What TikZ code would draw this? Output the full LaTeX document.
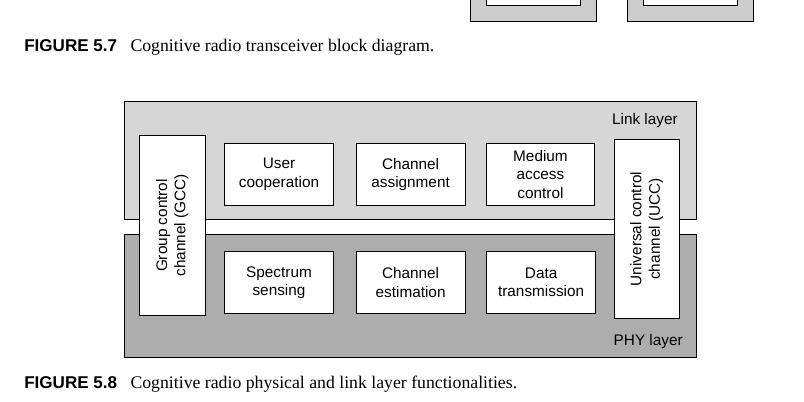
\documentclass[tikz,border=0pt]{standalone}
\usepackage{fontspec}
\setmainfont{Liberation Serif}
\newfontfamily\boxfont{Liberation Sans}
\usetikzlibrary{positioning}
\definecolor{linkgray}{gray}{0.84}
\definecolor{phygray}{gray}{0.68}
\definecolor{oldgray}{gray}{0.80}
\begin{document}
\begin{tikzpicture}[x=0.75pt, y=-0.75pt, node distance=15pt]
% Styles
\tikzstyle{layer} = [rectangle, draw=black, line width=0.7pt, inner sep=0pt, minimum width=428.8pt]
\tikzstyle{func} = [rectangle, draw=black, fill=white, line width=0.7pt, inner sep=0pt, minimum width=81.7pt, minimum height=46.7pt, align=center, font=\boxfont\fontsize{11.5}{13.8}\selectfont]
\tikzstyle{channel} = [func, rotate=90, minimum width=134.8pt, minimum height=49pt]
\tikzstyle{tag} = [inner sep=0pt, font=\boxfont\fontsize{11.5}{13.8}\selectfont]
\tikzstyle{caption} = [inner sep=0pt, anchor=west, font=\fontsize{13.3}{15}\selectfont]
\newcommand{\fignum}[1]{{\boxfont\bfseries\fontsize{12.8}{15}\selectfont #1}\hspace{10pt}}

\clip (0,0) rectangle (804,402);

% Figure 5.7 (bottom edge only)
\node (rxa) [rectangle, draw=black, fill=oldgray, line width=0.7pt, inner sep=0pt, minimum width=94.2pt, minimum height=45pt] at (533.5,-8.3) {};
\node (rxain) [rectangle, draw=black, fill=white, line width=0.7pt, inner sep=0pt, minimum width=70.5pt, minimum height=30pt] at (533.3,-14.3) {};
\node (rxb) [rectangle, draw=black, fill=oldgray, line width=0.7pt, inner sep=0pt, minimum width=94.2pt, minimum height=45pt] at (690.2,-8.3) {};
\node (rxbin) [rectangle, draw=black, fill=white, line width=0.7pt, inner sep=0pt, minimum width=70.5pt, minimum height=30pt] at (690,-14.3) {};
\node (cap7) [caption] at (24,47) {\fignum{FIGURE 5.7}Cognitive radio transceiver block diagram.};

% Layers
\node (link) [layer, fill=linkgray, minimum height=88pt] at (410.2,160.4) {};
\node (phy) [layer, fill=phygray, minimum height=92.2pt] at (410.2,296.2) {};
\node (linklbl) [tag, anchor=east] at (678,121) {Link layer};
\node (phylbl) [tag, anchor=east] at (683,342) {PHY layer};

% Link layer functions
\node (coop) [func] at (279,174.5) {User\\cooperation};
\node (assign) [func, right=16.3pt of coop] {Channel\\assignment};
\node (mac) [func, right=15pt of assign] {Medium\\access\\control};

% PHY layer functions
\node (sense) [func] at (279,282.5) {Spectrum\\sensing};
\node (estim) [func, right=16.3pt of sense] {Channel\\estimation};
\node (data) [func, right=15.5pt of estim] {Data\\transmission};

% Control channels
\node (gcc) [channel] at (172.3,225.5) {Group control\\channel (GCC)};
\node (ucc) [channel] at (646.7,229) {Universal control\\channel (UCC)};

\node (cap8) [caption] at (24,384) {\fignum{FIGURE 5.8}Cognitive radio physical and link layer functionalities.};

\end{tikzpicture}
\end{document}
